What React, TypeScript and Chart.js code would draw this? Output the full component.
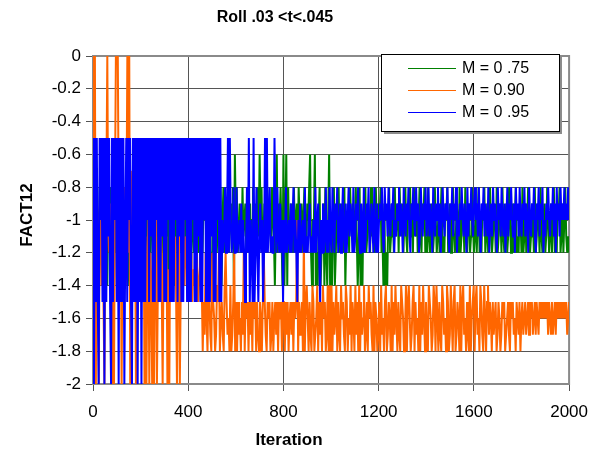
import React, { useEffect, useRef } from "react";
import { Chart, registerables } from "chart.js";

Chart.register(...registerables);

// ---- text ----
const chartTitle = "Roll .03 <t<.045";
const xAxisTitle = "Iteration";
const yAxisTitle = "FACT12";
const seriesNames = ["M = 0 .75", "M = 0.90", "M = 0 .95"];
const seriesColors = ["#008000", "#FF6600", "#0000FF"];

// ---- axes ----
const xMin = 0;
const xMax = 2000;
const xStep = 400;
const yMin = -2;
const yMax = 0;
const yStep = 0.2;

// ---- data ----
// Each character is one sample (every ~4 iterations across 0..2000).
// Code = tenths below zero: "0" = 0, "5" = -0.5, "a" = -1.0, "f" = -1.5, "k" = -2.0
const LEVEL_CODES = "0123456789abcdefghijk";

const green075: string[] = [
  "ae8c9ae8ca9ec8ae9c8aeb9c8ea9ce8ac9ea8ce9a8ec9ae8ca",
  "8ca9ec8ae9c8aec9a8ce9ac8ea9c8eac9a8ec9ae8ca9ce8ac9",
  "a8ce9ac8ea9c8eac9a8ce9a8ec9ae8ca9c8ea8cb9a8ca9b8e6",
  "a8cb9ac8ba9c8ab9ca8bc9a8b6a8cb9ac8ba9c8abea6c9a8be",
  "6ea6e8cb9ac8ba9c8ab9ca8bc9a86ceaa6ecea8ecb9e8cea6ec",
  "ea8ec9a8cb9ac8eba9c8ab9ca8bec8eae9a8cb9ac8ba9c8ab9",
  "a8cbe9ecea8cb9ac8ba9c8ab9ca8bc9a8b9c8ab9ca8bc9a8cb",
  "c8bca9cb8acb9ca8cbc9a8cb9ca8bcb9ac8cb9ac8bca9cb8ac",
  "b9ca8cbc9a8cb9ca8bcb9ac8cb9ac8bca9cb8acb9ca8cbc9ac",
  "8cb9ca8bcb9ac8cb9ac8bca9cb8acb9ca8cbc9a8cb9ca8bcbc",
];

const orange090: string[] = [
  "0a0k8cka6e9fka80bc9ekak8000ad9kac8ea0c0ka7eb9kac8f",
  "cae9kbkdakcekakc9kebdaekc9ebkdkaec6dbekcakec5debce",
  "cedcfdecdcfedceifhcgiefhicfgihefcigfhiecfhgieihfci",
  "fifhgifhcifgfifhfiegfifhifgifcfhifgfihfigfhfifgfif",
  "fifhfigfhfifgfaifhgfibifegifhiefihgeifhfiegfiheiei",
  "eifhgeifhiegfhiefigheifgiehfieifhgeihfiegfhieifgih",
  "fiehgifeihfgieifhegifhiefgiheifegihfeifhgieifhegif",
  "hiefgihefiegifhiefhgiefihegifeihfgieifehgifhieigfe",
  "ifehgiefhiegifehfgifhgfihfgihfgfihgfhifgfhgifghfig",
  "fhgfhgfhfgfhgfhfghfgfgfgfgfhfghfhgfhfgfgfgfgfgfhgf",
];

const blue095: string[] = [
  "5k5f5fk5a5f5k5f5b5fk5f5a5f5k5f5f5kb5f5a5fk5f5f5k5f",
  "5k5f5f5a5f5b5f5f5a5f5f5b5f5f5a5f5f5f5a5f5b5f5f5a5f",
  "5f5f5a5f5f5b5f5f5a5f5f5f5b5f5f5a5f5facb8ca5c5acb8c",
  "c8cbac9cacfc8c5facf5fc8cfb9cafc5c5ca8cbcc5ac8bc9caf",
  "ac8cbac9ca8cacfac9cbac8cbca9cbcac8ca9cfac9cb8cac8bc",
  "8ac9a8cb9ca8bc9ca8b9ac8cb9a8bc9ac8cb9a8cb9ac8bc9ca",
  "9a8bc8a9b8ab9a8cab9a8b9ac8ab9a8bc9a8ab8a9cb8ab9a8b",
  "a8b9ac8ab9a8b9ca8ab9a8bc9a8b9a8cab9a8ab9ac8b9a8ab9",
  "8a9b8ac9a8b9ab8ca9b8a9bc8a9b8ab9ca8b9a8ab9c8a9b8ab",
  "9a8b9ac8ab9a8bc9a8b9a8cab9a8ab9a8b9c8a9b8a9a8a9a8a",
];

function decode(segs: string[]) {
  const s = segs.join("");
  const n = s.length;
  return s.split("").map((c, i) => ({
    x: (i * (xMax - xMin)) / (n - 1) + xMin,
    y: -LEVEL_CODES.indexOf(c) / 10,
  }));
}

const FONT = "Arial, 'Liberation Sans', sans-serif";

const overlayPlugin = {
  id: "overlay",
  beforeDatasetsDraw(chart: any) {
    const { ctx, chartArea } = chart;
    ctx.save();
    ctx.strokeStyle = "#8a8a8a";
    ctx.lineWidth = 2;
    ctx.strokeRect(
      chartArea.left,
      chartArea.top,
      chartArea.right - chartArea.left,
      chartArea.bottom - chartArea.top
    );
    ctx.restore();
  },
  afterDraw(chart: any) {
    const { ctx } = chart;
    ctx.save();
    ctx.fillStyle = "#000";
    ctx.textAlign = "center";
    ctx.textBaseline = "middle";
    ctx.font = `bold 16px ${FONT}`;
    ctx.fillText(chartTitle, 275, 18);
    ctx.font = `bold 17px ${FONT}`;
    ctx.fillText(xAxisTitle, 289, 440);
    ctx.save();
    ctx.translate(27, 215);
    ctx.rotate(-Math.PI / 2);
    ctx.fillText(yAxisTitle, 0, 0);
    ctx.restore();

    // legend box
    const bx = 381, by = 54, bw = 178, bh = 77;
    ctx.fillStyle = "#8c8c8c";
    ctx.fillRect(bx + 3, by + 3, bw, bh);
    ctx.fillStyle = "#ffffff";
    ctx.fillRect(bx, by, bw, bh);
    ctx.strokeStyle = "#000";
    ctx.lineWidth = 1;
    ctx.strokeRect(bx + 0.5, by + 0.5, bw, bh);
    ctx.font = `16px ${FONT}`;
    ctx.textAlign = "left";
    const rows = [68, 90, 112];
    for (let i = 0; i < 3; i++) {
      ctx.strokeStyle = seriesColors[i];
      ctx.beginPath();
      ctx.moveTo(408, rows[i] + 0.5);
      ctx.lineTo(456, rows[i] + 0.5);
      ctx.stroke();
      ctx.fillStyle = "#000";
      ctx.fillText(seriesNames[i], 462, rows[i] + 1);
    }
    ctx.restore();
  },
};

export default function App() {
  const ref = useRef<HTMLCanvasElement | null>(null);

  useEffect(() => {
    if (!ref.current) return;
    const series = [green075, orange090, blue095];
    const orders = [2, 1, 0];
    const chart = new Chart(ref.current, {
      type: "line",
      data: {
        datasets: series.map((s, i) => ({
          label: seriesNames[i],
          data: decode(s),
          borderColor: seriesColors[i],
          backgroundColor: seriesColors[i],
          borderWidth: 2,
          pointRadius: 0,
          tension: 0,
          fill: false,
          order: orders[i],
        })),
      },
      options: {
        responsive: false,
        animation: false,
        devicePixelRatio: 1,
        parsing: false as any,
        normalized: true,
        layout: { padding: { top: 56, right: 29, bottom: 0, left: 0 } },
        plugins: {
          legend: { display: false },
          title: { display: false },
          tooltip: { enabled: false },
        },
        scales: {
          x: {
            type: "linear",
            min: xMin,
            max: xMax,
            afterFit: (s: any) => {
              s.height = 67;
            },
            ticks: {
              stepSize: xStep,
              color: "#000",
              padding: 11,
              maxRotation: 0,
              font: { family: FONT, size: 17 },
              callback: (v: any) => String(v),
            },
            grid: { color: "#555", lineWidth: 1, tickLength: 7, drawTicks: true },
            border: { display: true, color: "#444", width: 1 },
          },
          y: {
            type: "linear",
            min: yMin,
            max: yMax,
            afterFit: (s: any) => {
              s.width = 93;
            },
            ticks: {
              stepSize: yStep,
              color: "#000",
              padding: 5,
              font: { family: FONT, size: 17 },
              callback: (v: any) => {
                const r = Math.round(Number(v) * 10) / 10;
                return r === 0 ? "0" : String(r);
              },
            },
            grid: { color: "#555", lineWidth: 1, tickLength: 7, drawTicks: true },
            border: { display: true, color: "#444", width: 1 },
          },
        },
      },
      plugins: [overlayPlugin],
    });
    return () => chart.destroy();
  }, []);

  return (
    <div style={{ position: "absolute", left: 0, top: 0, width: 599, height: 451, background: "#fff" }}>
      <canvas ref={ref} width={599} height={451} style={{ display: "block", width: 599, height: 451 }} />
    </div>
  );
}
